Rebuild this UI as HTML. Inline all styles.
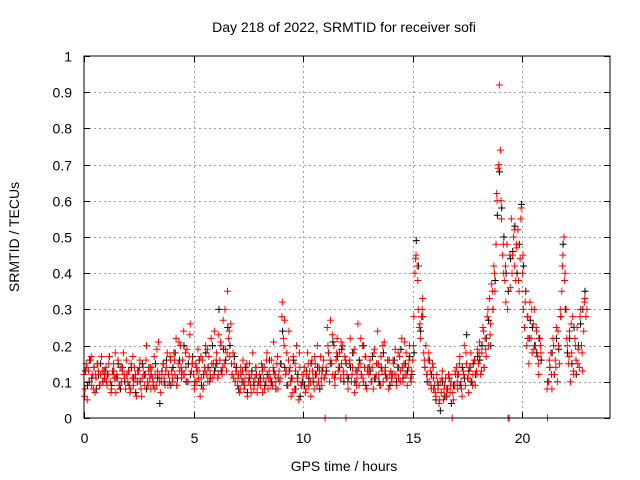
<!DOCTYPE html>
<html><head><meta charset="utf-8"><style>
body{margin:0;background:#fff}
svg{display:block;font-family:"Liberation Sans",sans-serif;font-size:14px}
</style></head><body>
<svg id="c" width="640" height="480">
<rect width="640" height="480" fill="#fff"/>
<g id="grid"></g>
<g id="marks"></g>
<rect x="84" y="56" width="526" height="362" fill="none" stroke="#000" stroke-width="1"/>
<g id="ticks"></g>
<text x="344" y="32" text-anchor="middle">Day 218 of 2022, SRMTID for receiver sofi</text>
<text x="344" y="471" text-anchor="middle">GPS time / hours</text>
<text x="19" y="237" text-anchor="middle" transform="rotate(-90 19 237)">SRMTID / TECUs</text>
</svg>
<script>
const xTicks=[0,5,10,15,20];
const yTicks=[0,0.1,0.2,0.3,0.4,0.5,0.6,0.7,0.8,0.9,1];
const yTickLabels=["0","0.1","0.2","0.3","0.4","0.5","0.6","0.7","0.8","0.9","1"];
const redA=[
.12,.08,.15,.05,.13,.10,.16,.09,.12,.14,.07,.11,.15,.13,.09,.12,.17,.10,.13,.11,
.14,.09,.12,.17,.10,.08,.13,.15,.11,.07,.12,.16,.09,.14,.10,.13,.18,.11,.08,.12,
.10,.13,.07,.15,.11,.09,.14,.12,.06,.10,.13,.16,.08,.11,.14,.09,.12,.20,.10,.13,
.11,.08,.14,.10,.17,.12,.09,.13,.21,.10,.07,.12,.15,.11,.09,.14,.18,.12,.10,.16,
.13,.10,.18,.12,.22,.09,.15,.13,.20,.11,.16,.24,.12,.14,.19,.10,.17,.26,.13,.15,
.12,.08,.15,.10,.19,.13,.06,.11,.16,.09,.14,.20,.12,.10,.17,.13,.22,.11,.15,.24,
.14,.18,.11,.23,.16,.20,.12,.27,.15,.19,.13,.35,.22,.17,.26,.12,.18,.15,.10,.13,
.09,.12,.07,.14,.10,.16,.08,.11,.13,.06,.10,.15,.09,.12,.18,.08,.11,.14,.07,.10,
.12,.09,.15,.07,.11,.14,.10,.18,.08,.13,.11,.16,.09,.21,.12,.10,.15,.08,.13,.11,
.15,.32,.22,.27,.12,.18,.09,.24,.14,.06,.11,.17,.08,.13,.20,.10,.05,.14,.09,.12,
.10,.14,.07,.12,.18,.09,.13,.06,.16,.11,.08,.15,.12,.20,.10,.13,.17,.09,.14,.11,
0,.14,.25,.18,.10,.27,.15,.12,.20,.09,.16,.22,.13,.18,.11,.15,.20,.12,.17,0,
.12,.08,.15,.22,.10,.14,.18,.07,.13,.11,.26,.09,.15,.12,.20,.10,.14,.17,.08,.13,
.12,.16,.10,.14,.08,.19,.11,.15,.24,.12,.09,.17,.13,.10,.21,.14,.11,.16,.08,.12,
.13,.10,.16,.12,.19,.09,.14,.11,.17,.13,.22,.10,.15,.12,.18,.09,.14,.20,.11,.13,
.16,.28,.40,.45,.42,.30,.25,.22,.28,.33,.18,.14,.20,.12,.16,.10,.13,.08,.15,.11,
.09,.06,.12,.08,.04,.10,.07,.13,.05,.09,.11,.06,.08,.12,.07,.10,0,.05,.09,.12,
.14,.08,.12,.17,.10,.06,.13,.20,.09,.15,.11,.07,.14,.18,.10,.12,.16,.09,.13,.19,
.15,.21,.12,.18,.25,.14,.22,.17,.28,.20,.33,.26,.37,.30,.42,.35,.48,.60,.69,.92,
.74,.55,.45,.40,.38,.32,.48,0,0,.36,.55,.45,.50,.42,.38,.47,.52,.35,.44,.58,
.40,.30,.25,.35,.20,.28,.15,.32,.22,.18,.26,.30,.20,.24,.17,.12,.22,.18,null,null,
null,null,null,0,.10,.14,.18,.08,.22,.12,.16,.25,.10,.20,.15,.28,.35,.45,.50,.40,
.30,.20,.15,.24,.10,.18,.28,.12,.22,.16,.25,.19,.14,.30,.20,.13,.24,.33,.28,.30];
const redB=[
.06,.14,.10,.17,.08,.12,.15,.09,.13,.11,
.10,.15,.07,.12,.18,.11,.09,.14,.12,.16,
.13,.08,.17,.11,.10,.14,.06,.12,.16,.09,
.14,.11,.08,.19,.12,.10,.15,.13,.09,.17,
.11,.16,.09,.21,.14,.12,.18,.10,.23,.15,
.09,.14,.11,.17,.08,.13,.19,.10,.15,.12,
.16,.12,.21,.14,.30,.18,.24,.15,.11,.13,
.11,.08,.13,.09,.15,.12,.07,.10,.14,.09,
.10,.13,.08,.16,.11,.09,.14,.12,.17,.10,
.28,.20,.13,.16,.10,.07,.15,.11,.18,.09,
.12,.08,.15,.10,.13,.17,.09,.14,.11,.16,
.12,.20,.16,.23,.11,.18,.14,.21,.13,.16,
.10,.16,.12,.19,.09,.14,.22,.11,.17,.13,
.14,.10,.18,.12,.15,.09,.20,.13,.11,.16,
.11,.15,.12,.18,.10,.14,.21,.12,.16,.10,
.20,.44,.38,.26,.30,.16,.12,.18,.09,.14,
.07,.10,.05,.11,.08,.06,.12,.09,.07,.13,
.10,.15,.08,.12,.18,.11,.14,.09,.16,.12,
.18,.13,.24,.19,.30,.23,.35,.40,.62,.70,
.60,.48,.42,.30,.45,.40,.52,.48,.38,.55,
.45,.32,.28,.22,.30,.19,.25,.15,.20,null,
null,.08,.16,.12,.20,.14,.24,.30,.42,.38,
.22,.17,.26,.13,.20,.15,.28,.18,.32,null];
const black=[
.13,.09,.16,.11,.14,.08,.12,.15,.10,.13,
.12,.17,.09,.13,.11,.15,.08,.14,.10,.12,
.09,.14,.11,.07,.13,.10,.15,.12,.08,.14,
.12,.09,.15,.11,.04,.13,.10,.16,.12,.09,
.14,.18,.11,.16,.13,.20,.10,.15,.12,.17,
.10,.13,.16,.09,.12,.18,.14,.11,.20,.13,
.15,.30,.13,.19,.16,.25,.20,.12,.17,.14,
.08,.12,.10,.14,.07,.11,.13,.09,.12,.10,
.11,.14,.09,.12,.16,.10,.13,.08,.11,.15,
.24,.14,.09,.13,.11,.16,.08,.12,.06,.10,
.09,.13,.11,.15,.10,.12,.14,.08,.13,.11,
.13,.18,.15,.21,.12,.17,.14,.19,.10,.15,
.11,.14,.18,.10,.13,.16,.12,.20,.09,.14,
.13,.17,.11,.15,.10,.14,.18,.12,.16,.09,
.12,.16,.10,.14,.19,.11,.15,.13,.17,.12,
.18,.49,.42,.24,.28,.14,.10,.16,.12,.08,
.05,.09,.02,.10,.06,.08,.11,.04,.09,.12,
.12,.09,.14,.11,.23,.13,.10,.15,.12,.17,
.16,.20,.14,.22,.27,.20,.30,.38,.56,.68,
.58,.50,.40,.35,.44,.46,.53,.40,.48,.59,
.42,.35,.22,.27,.25,.20,.18,.22,.16,null,
null,.10,.14,.18,.12,.22,.19,.28,.48,.30,
.18,.22,.15,.25,.12,.20,.26,.30,.35,null];

const NS="http://www.w3.org/2000/svg";
const X0=84,X1=610,Y0=418,Y1=56,XMAX=24;
function xs(h){return X0+h/XMAX*(X1-X0);}
function ys(v){return Y0-v*(Y0-Y1);}
const grid=document.getElementById('grid'),ticks=document.getElementById('ticks'),marks=document.getElementById('marks');
function ln(p,x1,y1,x2,y2,st,da){const l=document.createElementNS(NS,'line');
l.setAttribute('x1',x1);l.setAttribute('y1',y1);l.setAttribute('x2',x2);l.setAttribute('y2',y2);
l.setAttribute('stroke',st);if(da)l.setAttribute('stroke-dasharray',da);p.appendChild(l);return l;}
function tx(x,y,s,anc){const t=document.createElementNS(NS,'text');t.setAttribute('x',x);t.setAttribute('y',y);
t.setAttribute('text-anchor',anc);t.textContent=s;ticks.appendChild(t);return t;}
xTicks.forEach(h=>{const x=Math.round(xs(h))+0.5;
 if(h>0){const g=ln(grid,x,Y1,x,Y0,'#a0a0a0','2,3');
 
 }
 ln(ticks,x,Y0,x,Y0-6,'#000');ln(ticks,x,Y1,x,Y1+6,'#000');
 const t=tx(x,Y0+25,String(h),'middle');
 
 });
yTicks.forEach((v,i)=>{const y=Math.round(ys(v))+0.5;
 if(v>0&&v<1){const g=ln(grid,X0,y,X1,y,'#a0a0a0','2,3');
 
 }
 ln(ticks,X0,y,X0+6,y,'#000');ln(ticks,X1,y,X1-6,y,'#000');
 const t=tx(72,y+5,yTickLabels[i],'end');
 
 });
function plus(h,v,col,name){const x=xs(h),y=ys(v);const p=document.createElementNS(NS,'path');
 p.setAttribute('d','M'+(x-3.5)+' '+y+'H'+(x+3.5)+'M'+x+' '+(y-3.5)+'V'+(y+3.5));
 p.setAttribute('stroke',col);p.setAttribute('stroke-width','1');
 
 
 marks.appendChild(p);}
black.forEach((v,i)=>{if(v!==null)plus(i*0.1+0.06,v,'#000','black-point');});
redA.forEach((v,i)=>{if(v!==null)plus(i*0.05,v,'#f00','red-point');});
redB.forEach((v,i)=>{if(v!==null)plus(i*0.1+0.03,v,'#f00','red-point');});
</script>
</body></html>
